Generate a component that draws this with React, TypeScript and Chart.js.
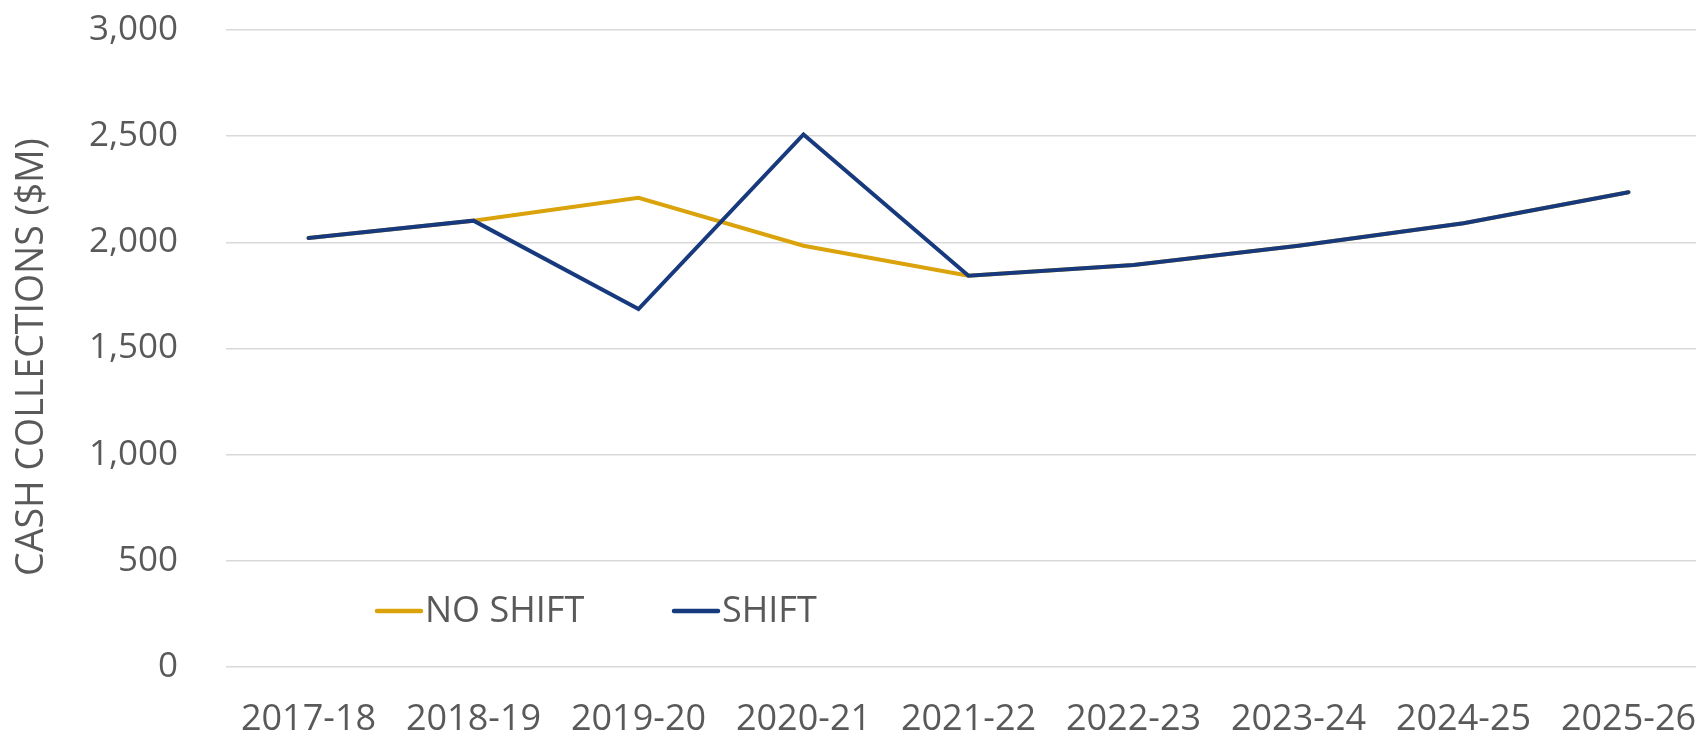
import React, { useEffect, useRef } from "react";
import { Chart, registerables } from "chart.js";

Chart.register(...registerables);

const categories = [
  "2017-18", "2018-19", "2019-20", "2020-21", "2021-22",
  "2022-23", "2023-24", "2024-25", "2025-26",
];
const noShift = [2020, 2102, 2210, 1984, 1843, 1893, 1984, 2090, 2236];
const shift = [2020, 2102, 1686, 2508, 1843, 1893, 1984, 2090, 2236];
const yTicksMin = 0;
const yTicksMax = 3000;
const yTickStep = 500;
const yTitle = "CASH COLLECTIONS ($M)";
const seriesNames = ["NO SHIFT", "SHIFT"];

const GOLD = "#DAA30B";
const BLUE = "#17397D";
const TEXT = "#595959";
const FONT = "'Open Sans', sans-serif";

const overlayPlugin = {
  id: "overlay",
  afterDraw(chart: any) {
    const ctx = chart.ctx;
    ctx.save();
    // y axis title
    ctx.translate(32, 357);
    ctx.rotate(-Math.PI / 2);
    ctx.font = `37.5px ${FONT}`;
    ctx.fillStyle = TEXT;
    ctx.textAlign = "center";
    ctx.textBaseline = "middle";
    ctx.fillText(yTitle, 0, 0);
    ctx.restore();

    // legend
    const items = [
      { name: seriesNames[0], color: GOLD, x: 377 },
      { name: seriesNames[1], color: BLUE, x: 674 },
    ];
    ctx.save();
    ctx.font = `36px ${FONT}`;
    ctx.textBaseline = "middle";
    ctx.textAlign = "left";
    items.forEach((it) => {
      ctx.strokeStyle = it.color;
      ctx.lineWidth = 4.5;
      ctx.lineCap = "round";
      ctx.beginPath();
      ctx.moveTo(it.x, 611);
      ctx.lineTo(it.x + 44, 611);
      ctx.stroke();
      ctx.fillStyle = TEXT;
      ctx.fillText(it.name, it.x + 48, 612);
    });
    ctx.restore();
  },
};

export default function App() {
  const ref = useRef<HTMLCanvasElement | null>(null);
  useEffect(() => {
    if (!ref.current) return;
    const chart = new Chart(ref.current, {
      type: "line",
      data: {
        labels: categories,
        datasets: [
          {
            label: seriesNames[0],
            data: noShift,
            borderColor: GOLD,
            backgroundColor: GOLD,
            borderWidth: 4,
            pointRadius: 0,
            tension: 0,
            borderCapStyle: "round",
            order: 2,
          },
          {
            label: seriesNames[1],
            data: shift,
            borderColor: BLUE,
            backgroundColor: BLUE,
            borderWidth: 4,
            pointRadius: 0,
            tension: 0,
            borderCapStyle: "round",
            order: 1,
          },
        ],
      },
      options: {
        responsive: false,
        animation: false,
        layout: { padding: { top: 30, right: 1, left: 0, bottom: 0 } },
        plugins: {
          legend: { display: false },
          tooltip: { enabled: false },
          title: { display: false },
        },
        scales: {
          x: {
            offset: true,
            grid: { display: false, drawTicks: false },
            border: { display: false },
            ticks: {
              color: TEXT,
              font: { family: FONT, size: 36 },
              padding: 31,
              maxRotation: 0,
              autoSkip: false,
            },
            afterFit(scale: any) {
              scale.height = 72;
              scale.paddingLeft = 0;
              scale.paddingRight = 0;
            },
          },
          y: {
            min: yTicksMin,
            max: yTicksMax,
            grid: { color: "#d9d9d9", lineWidth: 1.5, drawTicks: false },
            border: { display: false },
            ticks: {
              stepSize: yTickStep,
              color: TEXT,
              font: { family: FONT, size: 35 },
              padding: 48,
              callback: (v: any) => Number(v).toLocaleString("en-US"),
            },
            afterFit(scale: any) {
              scale.width = 226;
              scale.paddingTop = 20;
              scale.paddingBottom = 20;
            },
          },
        },
      },
      plugins: [overlayPlugin],
    });
    return () => chart.destroy();
  }, []);

  return (
    <div
      style={{
        position: "fixed",
        left: 0,
        top: 0,
        width: 1696,
        height: 739,
        overflow: "hidden",
        background: "#fff",
      }}
    >
      <canvas
        ref={ref}
        width={1712}
        height={739}
        style={{ display: "block", width: 1712, height: 739 }}
      />
    </div>
  );
}
